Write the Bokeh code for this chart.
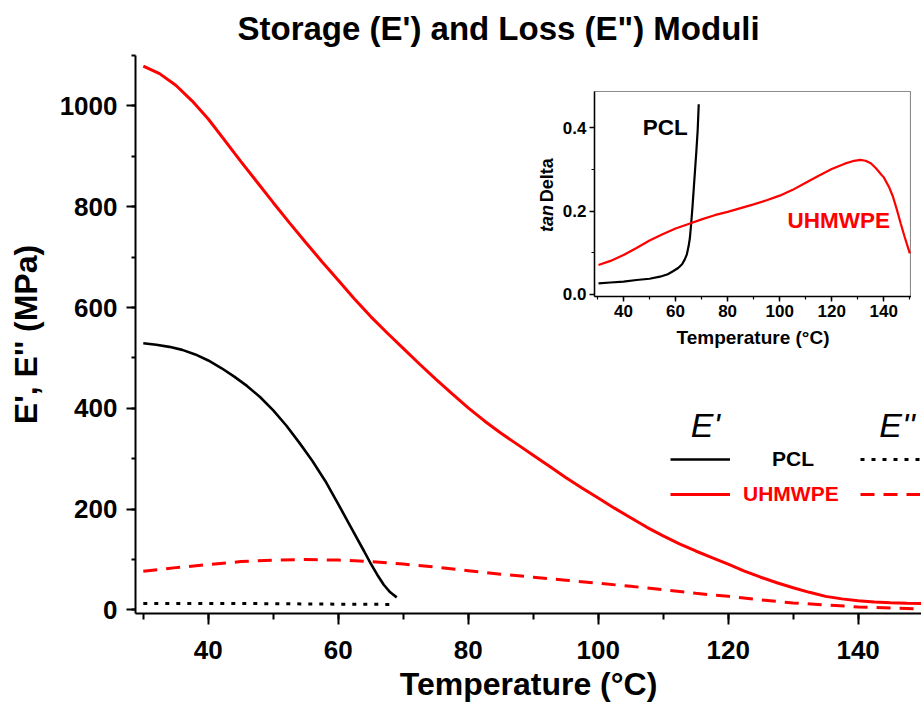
import math
from bokeh.plotting import figure
from bokeh.layouts import column
from bokeh.models import (SingleIntervalTicker, Legend, LegendItem, Label,
                          PrintfTickFormatter)
from bokeh.embed import file_html
from bokeh.resources import INLINE

FONT = "Liberation Sans"

# ---------------- main chart data ----------------
pcl_T_storage = [30, 32, 34, 36, 38, 40, 42, 44, 46, 48, 50, 52, 54, 56, 58, 60, 62, 64,
                 65, 66, 67, 68, 69]
pcl_storage = [529, 526, 522, 516, 507, 495, 480, 463, 444, 422, 396, 366, 332, 296, 256,
               210, 163, 116, 92, 70, 50, 35, 25]

pcl_T_loss = [30, 40, 50, 60, 68.3]
pcl_loss = [13, 13, 12.5, 11.5, 11]

uh_T_storage = [30, 32.5, 35, 37.5, 40, 42.5, 45, 47.5, 50, 52.5, 55, 57.5, 60, 62.5, 65,
                67.5, 70, 72.5, 75, 77.5, 80, 82.5, 85, 87.5, 90, 92.5, 95, 97.5, 100,
                102.5, 105, 107.5, 110, 112.5, 115, 117.5, 120, 122.5, 125, 127.5, 130,
                132.5, 135, 137.5, 140, 142.5, 145, 147.5, 150]
uh_storage = [1079, 1064, 1041, 1010, 974, 932, 890, 849, 808, 768, 729, 691, 654, 617,
              582, 550, 519, 488, 458, 429, 401, 375, 351, 329, 307, 285, 263, 242, 222,
              202, 183, 164, 147, 131, 117, 104, 91, 77, 65, 54, 44, 35, 27, 22, 18.5,
              16, 14.5, 13.5, 13]

uh_T_loss = [30, 35, 40, 45, 50, 55, 60, 65, 70, 75, 80, 85, 90, 95, 100,
             105, 110, 115, 120, 125, 130, 135, 140, 145, 150]
uh_loss = [77, 84, 90, 96, 99, 100, 99, 96, 91, 85, 78, 71, 65, 59, 53,
           47, 40, 33, 27, 20, 14, 10, 6, 4, 2]

# ---------------- inset data (tan delta) ----------------
pcl_T_tan = [30.4, 35, 40, 45, 50, 54, 57, 59, 61, 62.5, 63.5, 64.3, 65, 65.5, 66,
             66.5, 67, 67.5, 68, 68.5, 68.9]
pcl_tan = [0.026, 0.028, 0.030, 0.034, 0.037, 0.042, 0.048, 0.055, 0.063, 0.072, 0.083,
           0.095, 0.115, 0.135, 0.170, 0.21, 0.255, 0.30, 0.345, 0.395, 0.457]
uh_T_tan = [30.4, 35, 40, 45, 50, 55, 60, 65, 70, 75, 80, 85, 90, 95, 100, 105, 110, 115,
            120, 125, 128, 131, 133, 135, 137, 139, 140, 142, 143.5, 145, 146.5, 148, 150]
uh_tan = [0.070, 0.080, 0.094, 0.111, 0.129, 0.144, 0.158, 0.169, 0.180, 0.190, 0.198,
          0.207, 0.216, 0.226, 0.237, 0.251, 0.268, 0.285, 0.301, 0.314, 0.320, 0.323,
          0.321, 0.315, 0.303, 0.288, 0.281, 0.258, 0.235, 0.204, 0.170, 0.138, 0.098]

title_text = "Storage (E') and Loss (E\") Moduli"
x_title = "Temperature (°C)"
y_title = "E', E'' (MPa)"
inset_y_title = ["tan", "Delta"]
materials = ["PCL", "UHMWPE"]
headers = ["E'", "E''"]

RED = "#ff0000"
BLACK = "#000000"

# ---------------- main figure ----------------
p = figure(width=921, height=708, x_range=(28.8, 149.75), y_range=(-7, 1100),
           output_backend="svg", toolbar_location=None,
           min_border_left=135, min_border_right=0, min_border_top=55, min_border_bottom=95)
p.outline_line_color = None
p.xgrid.visible = False
p.ygrid.visible = False
p.background_fill_color = "white"
p.border_fill_color = "white"

p.title.text = title_text
p.title.align = "left"
p.title.offset = 102
p.title.vertical_align = "top"
p.title.standoff = 14
p.title.text_font = FONT
p.title.text_font_size = "33px"
p.title.text_font_style = "bold"
p.title.text_color = BLACK

p.xaxis.ticker = SingleIntervalTicker(interval=20, num_minor_ticks=2)
p.yaxis.ticker = SingleIntervalTicker(interval=200, num_minor_ticks=2)
p.xaxis.axis_label = x_title
p.yaxis.axis_label = y_title
for ax in (p.xaxis, p.yaxis):
    ax.axis_line_width = 2
    ax.axis_line_color = BLACK
    ax.major_tick_line_width = 2
    ax.minor_tick_line_width = 2
    ax.major_tick_line_color = BLACK
    ax.minor_tick_line_color = BLACK
    ax.major_tick_in = 0
    ax.minor_tick_in = 0
    ax.major_label_text_font = FONT
    ax.major_label_text_font_size = "26px"
    ax.major_label_text_font_style = "bold"
    ax.major_label_text_color = BLACK
    ax.axis_label_text_font = FONT
    ax.axis_label_text_font_size = "32px"
    ax.axis_label_text_font_style = "bold"
    ax.axis_label_text_color = BLACK
p.xaxis.major_tick_out = 11
p.xaxis.minor_tick_out = 6
p.xaxis.major_label_standoff = 16
p.xaxis.axis_label_standoff = 4
p.yaxis.major_tick_out = 9
p.yaxis.minor_tick_out = 4
p.yaxis.major_label_standoff = 9
p.yaxis.axis_label_standoff = 13

r_pcl_s = p.line(pcl_T_storage, pcl_storage, line_color=BLACK, line_width=2.6)
r_pcl_l = p.line(pcl_T_loss, pcl_loss, line_color=BLACK, line_width=3, line_dash="4 7")
r_uh_s = p.line(uh_T_storage, uh_storage, line_color=RED, line_width=3)
r_uh_l = p.line(uh_T_loss, uh_loss, line_color=RED, line_width=3, line_dash="14 9")


def mk_legend(label, rend, loc, standoff, color):
    lg = Legend(items=[LegendItem(label=label, renderers=[rend])], location=loc,
                orientation="horizontal", glyph_width=60, glyph_height=26, label_height=26,
                label_standoff=standoff, padding=0, margin=0, spacing=0,
                border_line_alpha=0, background_fill_alpha=0,
                label_text_font=FONT, label_text_font_size="21px",
                label_text_font_style="bold", label_text_color=color)
    p.add_layout(lg)


mk_legend(materials[0], r_pcl_s, (535, 140.7), 42, BLACK)
mk_legend(materials[1], r_uh_s, (535, 106.4), 13, RED)
mk_legend(" ", r_pcl_l, (725, 140.7), 0, BLACK)
mk_legend(" ", r_uh_l, (725, 106.4), 0, RED)

for txt, xv in zip(headers, [116.5, 146.0]):
    p.add_layout(Label(x=xv, y=367, text=txt, text_align="center", text_baseline="middle",
                       text_font=FONT, text_font_size="34px", text_font_style="italic",
                       text_color=BLACK))

# y-axis title of the inset ("tan" italic + "Delta"), drawn on the main canvas
# underneath the transparent inset, at the place where the inset's axis title sits
for txt, yv, style in zip(inset_y_title, [750, 809], ["bold italic", "bold"]):
    p.add_layout(Label(x=92.15, y=yv, text=txt, angle=math.pi / 2, text_align="left",
                       text_baseline="middle", text_font=FONT, text_font_size="18px",
                       text_font_style=style, text_color=BLACK))

# ---------------- inset figure ----------------
# frame alignment inside the column gives it the same left border as the main plot,
# so it is shifted left by the difference and widened accordingly.
ins = figure(width=452, height=270, x_range=(28.85, 150.65), y_range=(-0.0057, 0.4877),
             output_backend="svg", toolbar_location=None,
             min_border_left=135, min_border_right=0, min_border_top=11, min_border_bottom=53)
ins.outline_line_color = "#8c8c8c"
ins.outline_line_width = 1.2
ins.xgrid.visible = False
ins.ygrid.visible = False
ins.background_fill_alpha = 0
ins.border_fill_alpha = 0
ins.xaxis.ticker = SingleIntervalTicker(interval=20, num_minor_ticks=2)
ins.yaxis.ticker = SingleIntervalTicker(interval=0.2, num_minor_ticks=2)
ins.yaxis.formatter = PrintfTickFormatter(format="%.1f")
ins.xaxis.axis_label = x_title
for ax in (ins.xaxis, ins.yaxis):
    ax.axis_line_width = 1.5
    ax.axis_line_color = BLACK
    ax.major_tick_line_width = 1.5
    ax.minor_tick_line_width = 1.2
    ax.major_tick_line_color = BLACK
    ax.minor_tick_line_color = BLACK
    ax.major_tick_in = 0
    ax.minor_tick_in = 0
    ax.major_tick_out = 5
    ax.minor_tick_out = 3
    ax.major_label_text_font = FONT
    ax.major_label_text_font_size = "17px"
    ax.major_label_text_font_style = "bold"
    ax.major_label_text_color = BLACK
    ax.axis_label_text_font = FONT
    ax.axis_label_text_font_size = "19px"
    ax.axis_label_text_font_style = "bold"
    ax.axis_label_text_color = BLACK
ins.xaxis.major_label_standoff = 3
ins.xaxis.axis_label_standoff = 7
ins.yaxis.major_label_standoff = 3

ins.line(pcl_T_tan, pcl_tan, line_color=BLACK, line_width=2.2)
ins.line(uh_T_tan, uh_tan, line_color=RED, line_width=2.2)

ins.add_layout(Label(x=56, y=0.401, text=materials[0], text_align="center",
                     text_baseline="middle", text_font=FONT, text_font_size="22.5px",
                     text_font_style="bold", text_color=BLACK))
ins.add_layout(Label(x=122.7, y=0.178, text=materials[1], text_align="center",
                     text_baseline="middle", text_font=FONT, text_font_size="22.5px",
                     text_font_style="bold", text_color=RED))

ins.margin = (-628, 0, 0, 459)

layout = column(p, ins, spacing=0)
open("out.html", "w").write(file_html(layout, INLINE))
